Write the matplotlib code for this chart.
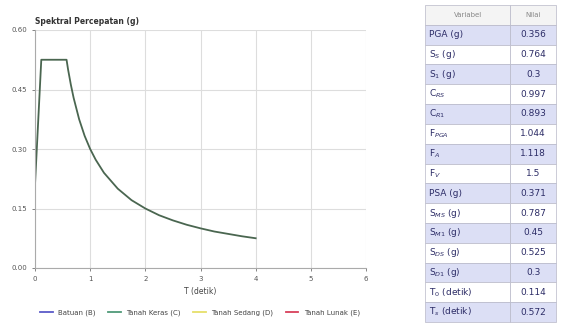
import matplotlib.pyplot as plt
from matplotlib.lines import Line2D

## ## data
# design spectrum (site class C), points along the curve
period = [0.0, 0.114, 0.572, 0.6, 0.65, 0.7, 0.8, 0.9, 1.0, 1.1, 1.25, 1.5, 1.75,
          2.0, 2.25, 2.5, 2.75, 3.0, 3.25, 3.5, 3.75, 4.0]
accel = [0.21, 0.525, 0.525, 0.500, 0.462, 0.429, 0.375, 0.333, 0.300, 0.273, 0.240,
         0.200, 0.171, 0.150, 0.133, 0.120, 0.109, 0.100, 0.092, 0.086, 0.080, 0.075]

legend_names = ["Batuan (B)", "Tanah Keras (C)", "Tanah Sedang (D)", "Tanah Lunak (E)"]
legend_colors = ["#5a5ac8", "#4f9a78", "#e6df6a", "#d8405a"]

x_ticks = [0, 1, 2, 3, 4, 5, 6]
y_ticks = [0.0, 0.15, 0.30, 0.45, 0.60]

table_names = ["PGA (g)", "S$_S$ (g)", "S$_1$ (g)", "C$_{RS}$", "C$_{R1}$", "F$_{PGA}$",
               "F$_A$", "F$_V$", "PSA (g)", "S$_{MS}$ (g)", "S$_{M1}$ (g)", "S$_{DS}$ (g)",
               "S$_{D1}$ (g)", "T$_0$ (detik)", "T$_s$ (detik)"]
table_values = ["0.356", "0.764", "0.3", "0.997", "0.893", "1.044", "1.118", "1.5",
                "0.371", "0.787", "0.45", "0.525", "0.3", "0.114", "0.572"]

## ## figure
W, H = 566, 328
fig = plt.figure(figsize=(W / 100, H / 100), dpi=100)

ax = fig.add_axes([35 / W, 1 - 268 / H, (366 - 35) / W, (268 - 30) / H])
ax.plot(period, accel, color="#4a6650", lw=1.3)
ax.set_xlim(0, 6)
ax.set_ylim(0, 0.6)
ax.set_xticks(x_ticks)
ax.set_yticks(y_ticks)
ax.set_yticklabels(["%.2f" % v for v in y_ticks])
ax.tick_params(labelsize=5, colors="#555555", length=2, width=0.5)
ax.grid(True, color="#dddddd", lw=0.8)
for side in ["top", "right"]:
    ax.spines[side].set_visible(False)
ax.spines["left"].set_color("#aaaaaa")
ax.spines["bottom"].set_color("#aaaaaa")
ax.set_xlabel("T (detik)", fontsize=5.5, color="#444444", labelpad=4)
fig.text(35 / W, 1 - 21 / H, "Spektral Percepatan (g)", fontsize=5.5,
         color="#333333", fontweight="bold", va="center")

handles = [Line2D([], [], color=c, lw=1.3) for c in legend_colors]
fig.legend(handles, legend_names, loc="center", bbox_to_anchor=(200 / W, 1 - 313 / H),
           ncol=4, fontsize=5, frameon=False, handlelength=1.8, columnspacing=1.8,
           labelcolor="#444444")

## ## table on the right
tax = fig.add_axes([425 / W, 1 - 322 / H, (556 - 425) / W, (322 - 5) / H])
tax.axis("off")
cells = [[n, v] for n, v in zip(table_names, table_values)]
colors = [["#dcdff5", "#dcdff5"] if i % 2 == 0 else ["white", "white"]
          for i in range(len(cells))]
tbl = tax.table(cellText=cells, colLabels=["Variabel", "Nilai"], cellColours=colors,
                colColours=["#f4f4f4", "#f4f4f4"], colWidths=[0.65, 0.35],
                bbox=[0, 0, 1, 1], cellLoc="center")
tbl.auto_set_font_size(False)
for (r, c), cell in tbl.get_celld().items():
    cell.set_edgecolor("#b8b8c8")
    cell.set_linewidth(0.5)
    cell.get_text().set_fontsize(6.5)
    cell.get_text().set_color("#2c2c66")
    if r == 0:
        cell.get_text().set_color("#888888")
        cell.get_text().set_fontsize(5)
    elif c == 0:
        cell.get_text().set_ha("left")
        cell.PAD = 0.05

fig.savefig("out.png", dpi=100)
